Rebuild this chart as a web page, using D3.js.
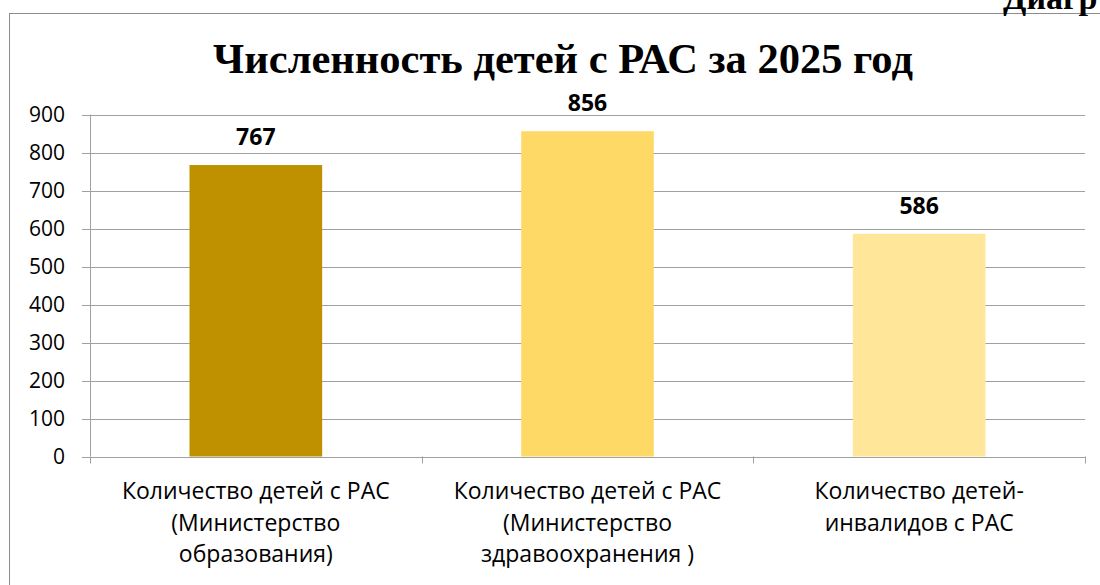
<!DOCTYPE html>
<html><head><meta charset="utf-8">
<script src="https://cdn.jsdelivr.net/npm/d3@7"></script>
<style>body{margin:0;background:#fff;} svg{display:block;}</style>
</head><body>
<script>
const categories = [
  ["Количество детей с РАС", "(Министерство", "образования)"],
  ["Количество детей с РАС", "(Министерство", "здравоохранения )"],
  ["Количество детей-", "инвалидов с РАС"]
];
const values = [767, 856, 586];
const colors = ["#BF9000", "#FFD966", "#FFE699"];
const yTicks = [0,100,200,300,400,500,600,700,800,900];
const title = "Численность детей с РАС за 2025 год";

const W = 1100, H = 585;
const svg = d3.select("body").append("svg").attr("width", W).attr("height", H);
const sans = "'Open Sans', Carlito, Calibri, sans-serif";

// outer frame
svg.append("rect").attr("x", 9.5).attr("y", 13.5).attr("width", 1200).attr("height", 700)
  .attr("fill", "none").attr("stroke", "#8c8c8c").attr("stroke-width", 1);
// cut-off document text
svg.append("text").attr("x", 1003).attr("y", 9).text("Диагр")
  .attr("font-family", "'Liberation Serif', 'Times New Roman', serif").attr("font-weight", "bold").attr("font-size", 34);

const x0 = 90, x1 = 1085, yBase = 456.5, yTop = 114.5;
const x = d3.scaleBand().domain(d3.range(categories.length)).range([x0, x1]).paddingInner(0).paddingOuter(0);
const y = d3.scaleLinear().domain([0, 900]).range([yBase, yTop]);

// gridlines
svg.append("g").selectAll("line").data(yTicks).join("line")
  .attr("x1", x0 - 8).attr("x2", x1)
  .attr("y1", d => Math.round(y(d)) + 0.5).attr("y2", d => Math.round(y(d)) + 0.5)
  .attr("stroke", "#a0a0a0").attr("stroke-width", 1);

// y axis line
svg.append("line").attr("x1", x0 + 0.5).attr("x2", x0 + 0.5).attr("y1", yTop).attr("y2", yBase)
  .attr("stroke", "#a0a0a0");
// x category ticks
const xt = x.domain().map(d => x(d)).concat([x1]);
svg.append("g").selectAll("line").data(xt).join("line")
  .attr("x1", d => Math.round(d) + 0.5).attr("x2", d => Math.round(d) + 0.5)
  .attr("y1", yBase).attr("y2", yBase + 7).attr("stroke", "#a0a0a0");

// y labels
svg.append("g").selectAll("text").data(yTicks).join("text")
  .attr("x", 65).attr("y", d => y(d) + 7.5).attr("text-anchor", "end")
  .attr("font-family", sans).attr("font-size", 21).attr("fill", "#000").text(d => d);

// bars
const bw = x.bandwidth() * 0.4;
svg.append("g").selectAll("rect").data(values).join("rect")
  .attr("x", (d, i) => x(i) + (x.bandwidth() - bw) / 2)
  .attr("y", d => y(d)).attr("width", bw).attr("height", d => yBase - y(d))
  .attr("fill", (d, i) => colors[i]);

// value labels
svg.append("g").selectAll("text").data(values).join("text")
  .attr("x", (d, i) => x(i) + x.bandwidth() / 2).attr("y", d => y(d) - 20)
  .attr("text-anchor", "middle").attr("font-family", sans).attr("font-weight", "bold")
  .attr("font-size", 23).text(d => d);

// category labels
categories.forEach((lines, i) => {
  const t = svg.append("text").attr("text-anchor", "middle").attr("font-family", sans).attr("font-size", 23);
  lines.forEach((ln, j) => {
    t.append("tspan").attr("x", x(i) + x.bandwidth() / 2).attr("y", 499 + j * 31.5).text(ln);
  });
});

// title
svg.append("text").attr("x", 563).attr("y", 73).attr("text-anchor", "middle")
  .attr("font-family", "'Liberation Serif', 'Times New Roman', serif").attr("font-weight", "bold")
  .attr("font-size", 42.5).text(title);
</script>
</body></html>
